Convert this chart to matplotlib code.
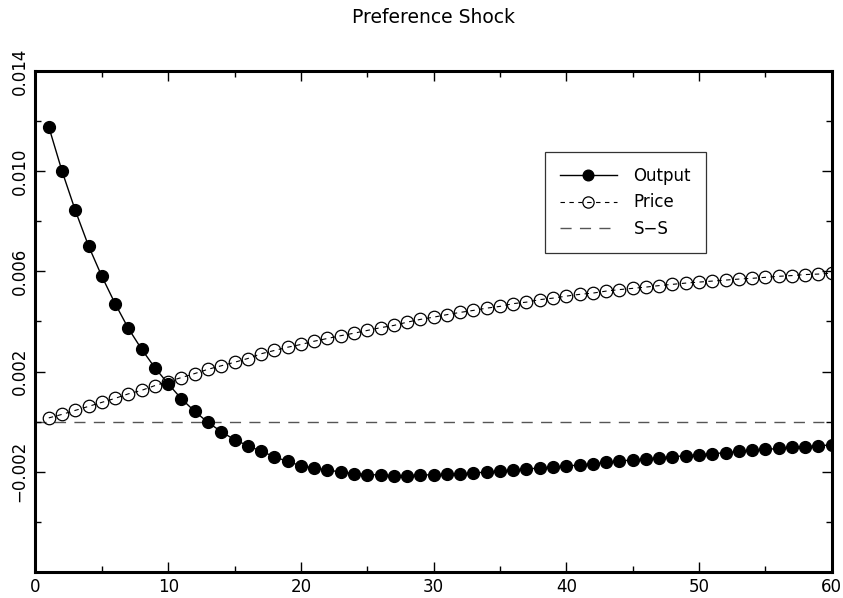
import numpy as np
import matplotlib
matplotlib.use("Agg")
import matplotlib.pyplot as plt
from matplotlib.ticker import FixedLocator, MultipleLocator

# Impulse responses, periods 1..60
periods = list(range(1, 61))

output = [0.01177, 0.01000, 0.00843, 0.00701, 0.00580, 0.00471, 0.00372, 0.00289,
          0.00215, 0.00151, 0.00091, 0.00041, -0.00003, -0.00040, -0.00072, -0.00096,
          -0.00118, -0.00140, -0.00159, -0.00176, -0.00185, -0.00193, -0.00201, -0.00207,
          -0.00211, -0.00213, -0.00215, -0.00215, -0.00213, -0.00212, -0.00210, -0.00208,
          -0.00205, -0.00201, -0.00197, -0.00193, -0.00189, -0.00185, -0.00181, -0.00177,
          -0.00173, -0.00168, -0.00163, -0.00157, -0.00153, -0.00149, -0.00144, -0.00140,
          -0.00136, -0.00132, -0.00128, -0.00124, -0.00119, -0.00115, -0.00111, -0.00107,
          -0.00103, -0.00100, -0.00096, -0.00093]

price = [0.00015, 0.00029, 0.00045, 0.00061, 0.00077, 0.00093, 0.00111, 0.00125,
         0.00144, 0.00160, 0.00176, 0.00192, 0.00209, 0.00223, 0.00237, 0.00252,
         0.00271, 0.00284, 0.00297, 0.00308, 0.00321, 0.00332, 0.00343, 0.00353,
         0.00364, 0.00375, 0.00384, 0.00397, 0.00408, 0.00417, 0.00427, 0.00436,
         0.00444, 0.00453, 0.00460, 0.00471, 0.00477, 0.00487, 0.00493, 0.00501,
         0.00508, 0.00513, 0.00521, 0.00527, 0.00532, 0.00537, 0.00543, 0.00548,
         0.00553, 0.00557, 0.00561, 0.00565, 0.00569, 0.00572, 0.00576, 0.00580,
         0.00583, 0.00587, 0.00589, 0.00593]

steady_state = 0.0

ytick_major = [-0.002, 0.002, 0.006, 0.010, 0.014]
ytick_minor = [-0.004, 0.0, 0.004, 0.008, 0.012]
ytick_labels = ["\u22120.002", "0.002", "0.006", "0.010", "0.014"]

plt.rcParams['font.family'] = ['DejaVu Sans']

fig = plt.figure(figsize=(8.43, 5.98), dpi=100)
ax = fig.add_axes([0.0421, 0.0435, 0.9445, 0.838])

ax.axhline(steady_state, color='#555555', lw=1.0, dashes=(8, 6), label='S\u2212S', zorder=1)
ax.plot(periods, price, color='black', lw=0.8, dashes=(4, 4), marker='o',
        markersize=9, markerfacecolor='none', markeredgecolor='black',
        markeredgewidth=0.9, label='Price', zorder=2)
ax.plot(periods, output, color='black', lw=1.0, marker='o', markersize=8.5,
        markerfacecolor='black', markeredgecolor='black', label='Output', zorder=3)

ax.set_xlim(0, 60)
ax.set_ylim(-0.006, 0.014)

ax.xaxis.set_major_locator(MultipleLocator(10))
ax.xaxis.set_minor_locator(MultipleLocator(5))
ax.yaxis.set_major_locator(FixedLocator(ytick_major))
ax.yaxis.set_minor_locator(FixedLocator(ytick_minor))
ax.set_yticklabels(ytick_labels, rotation=90, va='center')

ax.tick_params(which='both', direction='in', top=True, right=True, width=1.0,
               labelsize=12)
ax.tick_params(which='major', length=7)
ax.tick_params(which='minor', length=4)
ax.tick_params(axis='x', pad=4)
ax.tick_params(axis='y', pad=5)

for sp in ax.spines.values():
    sp.set_linewidth(2.2)

handles, labels = ax.get_legend_handles_labels()
order = [2, 1, 0]
leg = ax.legend([handles[i] for i in order], [labels[i] for i in order],
                loc='upper left', bbox_to_anchor=(0.64, 0.838), fontsize=12,
                frameon=True, fancybox=False, handlelength=3.4, handletextpad=1.0,
                labelspacing=0.5, borderpad=0.9, borderaxespad=0.0, markerscale=0.9)
leg.get_frame().set_edgecolor('black')
leg.get_frame().set_linewidth(0.9)

fig.text(0.514, 0.97, "Preference Shock", ha='center', va='center', fontsize=13.5)

fig.savefig("out.png", dpi=100)
